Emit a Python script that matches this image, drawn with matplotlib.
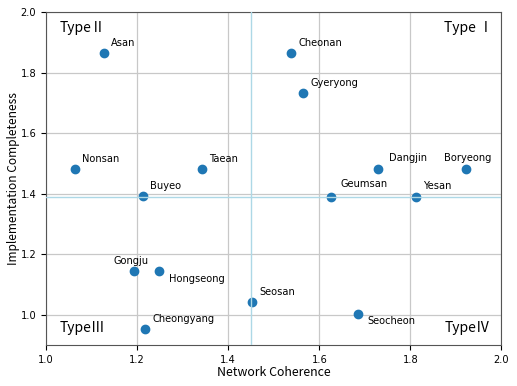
import matplotlib.pyplot as plt
import numpy as np

names = ['Asan', 'Cheonan', 'Gyeryong', 'Nonsan', 'Taean', 'Buyeo', 'Dangjin', 'Boryeong',
         'Geumsan', 'Yesan', 'Gongju', 'Hongseong', 'Seosan', 'Cheongyang', 'Seocheon']
coherence = [1.128, 1.538, 1.565, 1.064, 1.342, 1.214, 1.728, 1.922,
             1.626, 1.813, 1.193, 1.249, 1.453, 1.218, 1.685]
completeness = [1.864, 1.864, 1.732, 1.481, 1.481, 1.392, 1.482, 1.482,
                1.390, 1.390, 1.143, 1.143, 1.042, 0.952, 1.002]
# label offsets in points
offsets = {'Gongju': (-15, 4), 'Hongseong': (7, -1.5), 'Seocheon': (7, -1.5),
           'Boryeong': (-16, 4), 'Geumsan': (7, 5.5), 'Dangjin': (8, 4)}

fig = plt.figure(figsize=(5.17, 3.86), dpi=100)
ax = fig.add_axes([0.089, 0.106, 0.881, 0.863])

ax.scatter(coherence, completeness, s=36, color='tab:blue', zorder=3)
ax.axvline(np.mean(coherence), color='lightblue', lw=1, zorder=4)
ax.axhline(np.mean(completeness), color='lightblue', lw=1, zorder=4)

for n, x, y in zip(names, coherence, completeness):
    dx, dy = offsets.get(n, (5, 4))
    ax.annotate(n, (x, y), xytext=(dx, dy), textcoords='offset points',
                fontsize=7.1, va='bottom' if dy > 0 else 'top', ha='left')

kfont = ['Noto Sans CJK KR', 'DejaVu Sans']
ax.text(1.029, 1.947, 'TypeⅡ', fontsize=10, family=kfont, ha='left', va='center')
ax.text(1.982, 1.947, 'Type Ⅰ', fontsize=10, family=kfont, ha='right', va='center')
ax.text(1.029, 0.955, 'TypeⅢ', fontsize=10, family=kfont, ha='left', va='center')
ax.text(1.975, 0.955, 'TypeⅣ', fontsize=10, family=kfont, ha='right', va='center')

ax.set_xlim(1.0, 2.0)
ax.set_ylim(0.9, 2.0)
ax.set_xticks([1.0, 1.2, 1.4, 1.6, 1.8, 2.0])
ax.set_yticks([1.0, 1.2, 1.4, 1.6, 1.8, 2.0])
ax.tick_params(labelsize=7.1)
ax.grid(True, color='#c8c8c8', lw=0.9)
ax.set_axisbelow(True)
for s in ax.spines.values():
    s.set_color('#555555')
ax.set_xlabel('Network Coherence', fontsize=8.9, family=kfont, labelpad=0.5)
ax.set_ylabel('Implementation Completeness', fontsize=8.6, family=kfont, labelpad=0.5)

fig.savefig('out.png', dpi=100)
